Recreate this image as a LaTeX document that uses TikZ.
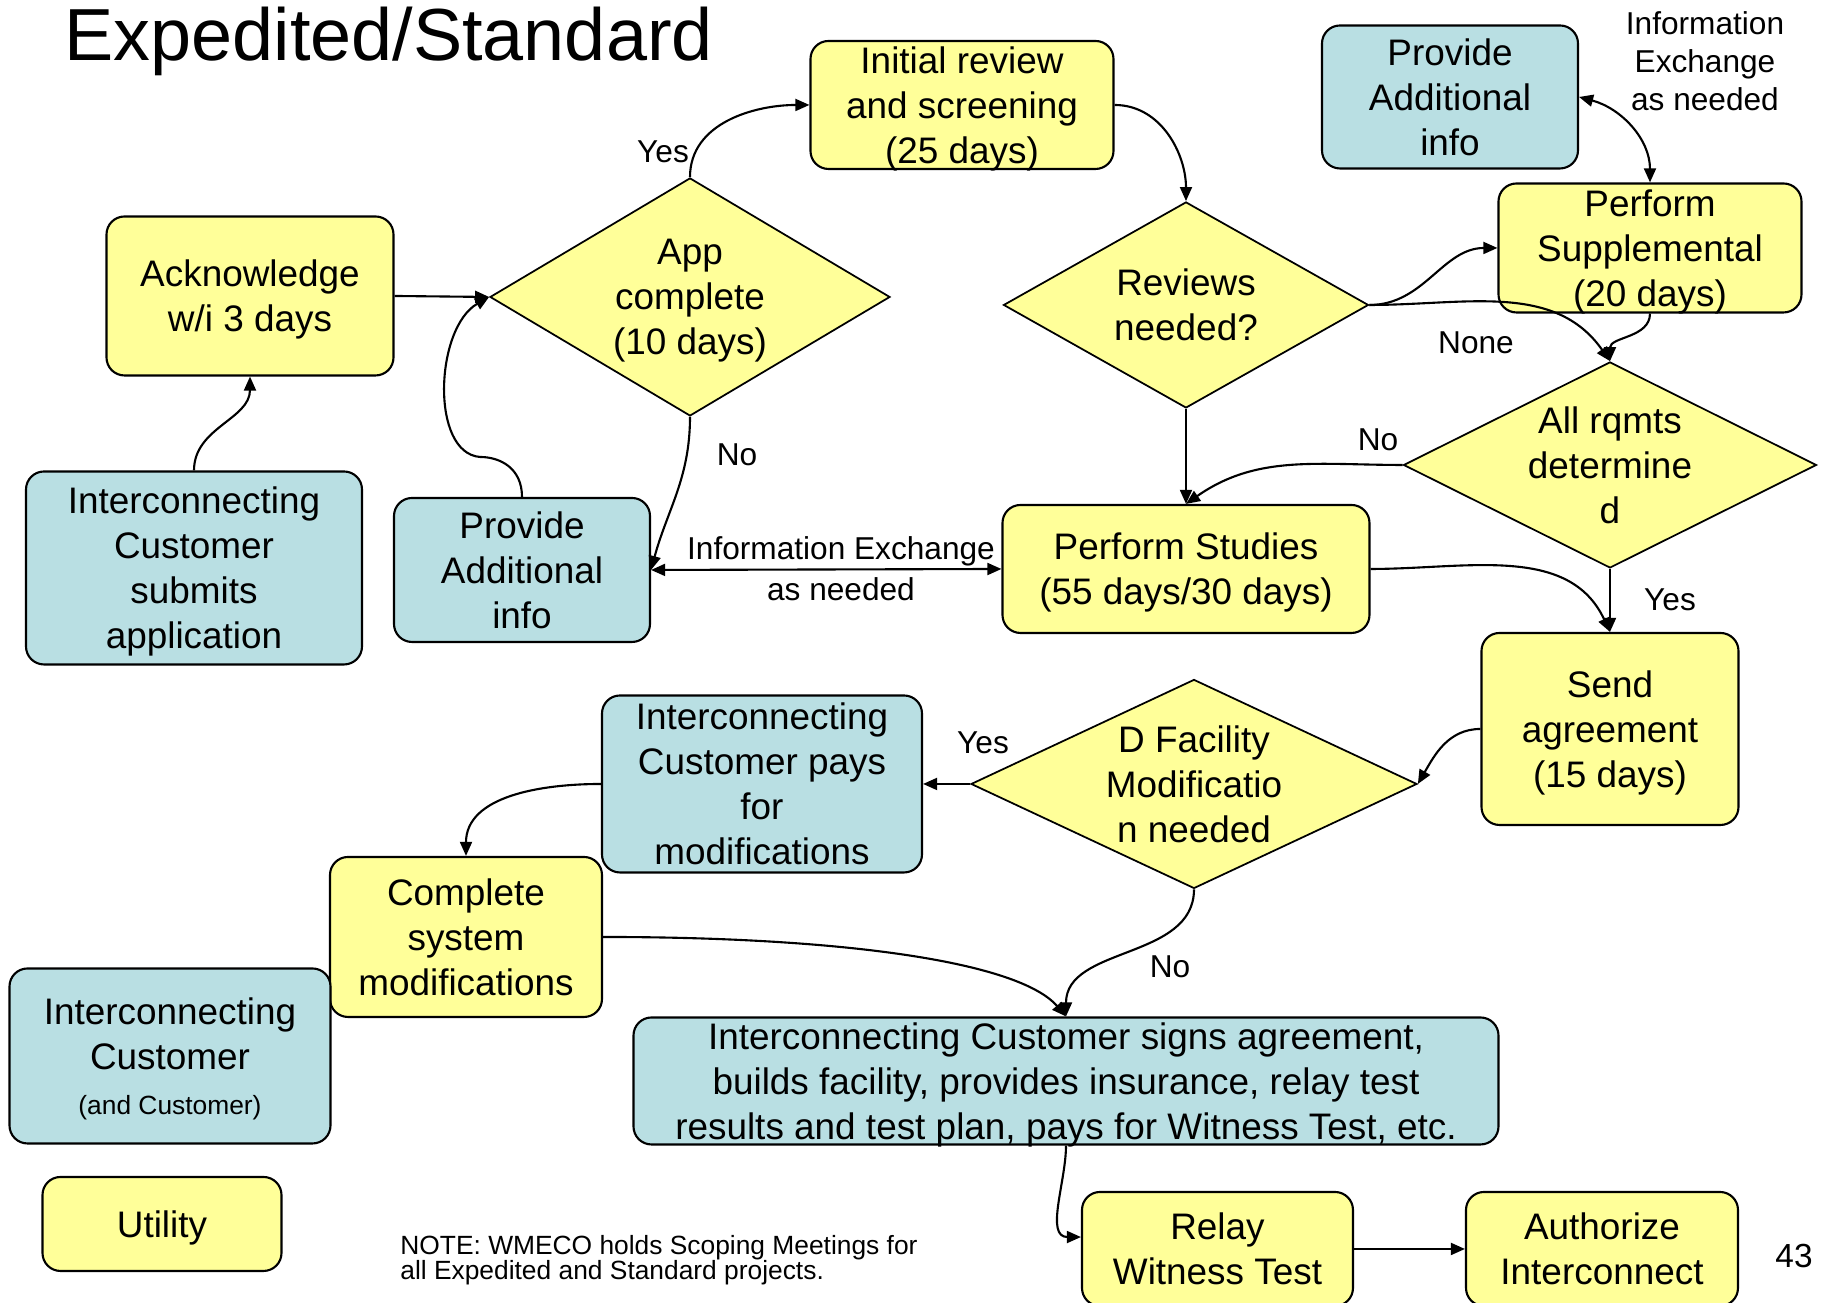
\documentclass[tikz,border=0pt]{standalone}
\usepackage{fontspec}
\setmainfont{Liberation Sans}
\usetikzlibrary{shapes,arrows,arrows.meta,positioning}
\definecolor{utilyellow}{HTML}{FFFF99}
\definecolor{custblue}{HTML}{B9DFE3}

\begin{document}
\begin{tikzpicture}[box/.style={rectangle,rounded corners=0.18cm,draw=black,line width=0.6pt,align=center,inner sep=0pt,font=\fontsize{10.5}{12.8}\selectfont,text depth=-1.1pt},
            util/.style={box,fill=utilyellow},
            cust/.style={box,fill=custblue},
            dec/.style={diamond,draw=black,line width=0.5pt,fill=utilyellow,inner sep=0pt},
            dectext/.style={align=center,font=\fontsize{10.5}{12.8}\selectfont,text depth=-1.1pt},
            lbl/.style={align=center,font=\fontsize{9}{10.8}\selectfont},
            flow/.style={-{Triangle[length=4pt,width=3.4pt]},line width=0.6pt},
            flow2/.style={{Triangle[length=4pt,width=3.4pt]}-{Triangle[length=4pt,width=3.4pt]},line width=0.6pt}]

            \useasboundingbox (0,0) rectangle (18.29,13.03);

            \node[anchor=base west,font=\fontsize{21}{25}\selectfont] (title) at (0.52,12.42) {Expedited/Standard};

            % top row
            \node[util,minimum width=3.03cm,minimum height=1.28cm] (init) at (9.62,11.98) {Initial review\\and screening\\(25 days)};
            \node[cust,minimum width=2.56cm,minimum height=1.43cm] (addtop) at (14.50,12.06) {Provide\\Additional\\info};
            \node[lbl] (exchtop) at (17.05,12.42) {Information\\Exchange\\as needed};
            \node[util,minimum width=2.87cm,minimum height=1.59cm] (ack) at (2.50,10.07) {Acknowledge\\w/i 3 days};
            \node[dec,minimum width=4.00cm,minimum height=2.38cm] (app) at (6.90,10.06) {};
            \node[dectext] (appt) at (app) {App\\complete\\(10 days)};
            \node[dec,minimum width=3.65cm,minimum height=2.06cm] (rev) at (11.86,9.98) {};
            \node[dectext] (revt) at (rev) {Reviews\\needed?};
            \node[util,minimum width=3.03cm,minimum height=1.29cm] (supp) at (16.50,10.55) {Perform\\Supplemental\\(20 days)};
            \node[dec,minimum width=4.13cm,minimum height=2.06cm] (allr) at (16.10,8.38) {};
            \node[dectext] (allrt) at (allr) {All rqmts\\determine\\d};

            % middle row
            \node[cust,minimum width=3.36cm,minimum height=1.93cm] (sub) at (1.94,7.35) {Interconnecting\\Customer\\submits\\application};
            \node[cust,minimum width=2.56cm,minimum height=1.44cm] (addmid) at (5.22,7.33) {Provide\\Additional\\info};
            \node[util,minimum width=3.67cm,minimum height=1.28cm] (stud) at (11.86,7.34) {Perform Studies\\(55 days/30 days)};
            \node[util,minimum width=2.57cm,minimum height=1.92cm] (send) at (16.10,5.74) {Send\\agreement\\(15 days)};
            \node[dec,minimum width=4.46cm,minimum height=2.09cm] (dfac) at (11.94,5.19) {};
            \node[dectext] (dfact) at (dfac) {D Facility\\Modificatio\\n needed};
            \node[cust,minimum width=3.20cm,minimum height=1.77cm] (pays) at (7.62,5.19) {Interconnecting\\Customer pays\\for\\modifications};
            \node[util,minimum width=2.72cm,minimum height=1.60cm] (comp) at (4.66,3.66) {Complete\\system\\modifications};

            % bottom row
            \node[cust,minimum width=3.21cm,minimum height=1.75cm] (legcust) at (1.70,2.47) {Interconnecting\\Customer\\{\fontsize{7.5}{12.8}\selectfont (and Customer)}};
            \node[cust,minimum width=8.65cm,minimum height=1.27cm] (sign) at (10.66,2.22) {Interconnecting Customer signs agreement,\\builds facility, provides insurance, relay test\\results and test plan, pays for Witness Test, etc.};
            \node[util,minimum width=2.39cm,minimum height=0.94cm] (legutil) at (1.62,0.79) {Utility};
            \node[anchor=west,align=left,font=\fontsize{7.5}{7}\selectfont] (note) at (3.88,0.43) {NOTE: WMECO holds Scoping Meetings for\\all Expedited and Standard projects.};
            \node[util,minimum width=2.71cm,minimum height=1.14cm] (relay) at (12.175,0.54) {Relay\\Witness Test};
            \node[util,minimum width=2.72cm,minimum height=1.14cm] (auth) at (16.02,0.54) {Authorize\\Interconnect};
            \node[font=\fontsize{9.5}{11}\selectfont] (page) at (17.94,0.47) {43};

            % labels
            \node[lbl] (yesapp) at (6.63,11.51) {Yes};
            \node[lbl] (noapp) at (7.37,8.48) {No};
            \node[lbl] (exch) at (8.41,7.52) {Information Exchange};
            \node[lbl] (exchb) at (8.41,7.14) {as needed};
            \node[lbl] (none) at (14.76,9.60) {None};
            \node[lbl] (noallr) at (13.78,8.63) {No};
            \node[lbl] (yesallr) at (16.70,7.03) {Yes};
            \node[lbl] (yesdfac) at (9.83,5.60) {Yes};
            \node[lbl] (nodfac) at (11.70,3.36) {No};

            % connectors
            \draw[flow] (sub.north) to[out=90,in=-90] (ack.south);
            \draw[flow] (ack.east) -- (app.west);
            \draw[flow] (addmid.north) .. controls (5.22,8.35) and (5.0,8.46) .. (4.80,8.46) .. controls (4.30,8.50) and (4.35,9.75) .. (app.west);
            \draw[flow] (app.north) to[out=90,in=180] (init.west);
            \draw[flow] (app.south) to[out=-90,in=75] (addmid.east);
            \draw[flow2] (addmid.east) -- (stud.west);
            \draw[flow] (init.east) to[out=0,in=90] (rev.north);
            \draw[flow] (rev.east) to[out=0,in=180] (supp.west);
            \draw[flow] (rev.east) to[out=0,in=125] (allr.north);
            \draw[flow] (supp.south) to[out=-90,in=90] (allr.north);
            \draw[flow2] (addtop.east) to[out=-15,in=90] (supp.north);
            \draw[flow] (rev.south) -- (stud.north);
            \draw[flow] (allr.west) to[out=180,in=35] (stud.north);
            \draw[flow] (allr.south) -- (send.north);
            \draw[flow] (stud.east) to[out=0,in=115] (send.north);
            \draw[flow] (send.west) to[out=180,in=60] (dfac.east);
            \draw[flow] (dfac.west) -- (pays.east);
            \draw[flow] (pays.west) to[out=180,in=90] (comp.north);
            \draw[flow] (dfac.south) to[out=-90,in=90] (sign.north);
            \draw[flow] (comp.east) .. controls (8.5,3.66) and (10.2,3.4) .. (sign.north);
            \draw[flow] (sign.south) to[out=-90,in=180] (relay.175);
            \draw[flow] (relay.east) -- (auth.west);
         \end{tikzpicture}
\end{document}
